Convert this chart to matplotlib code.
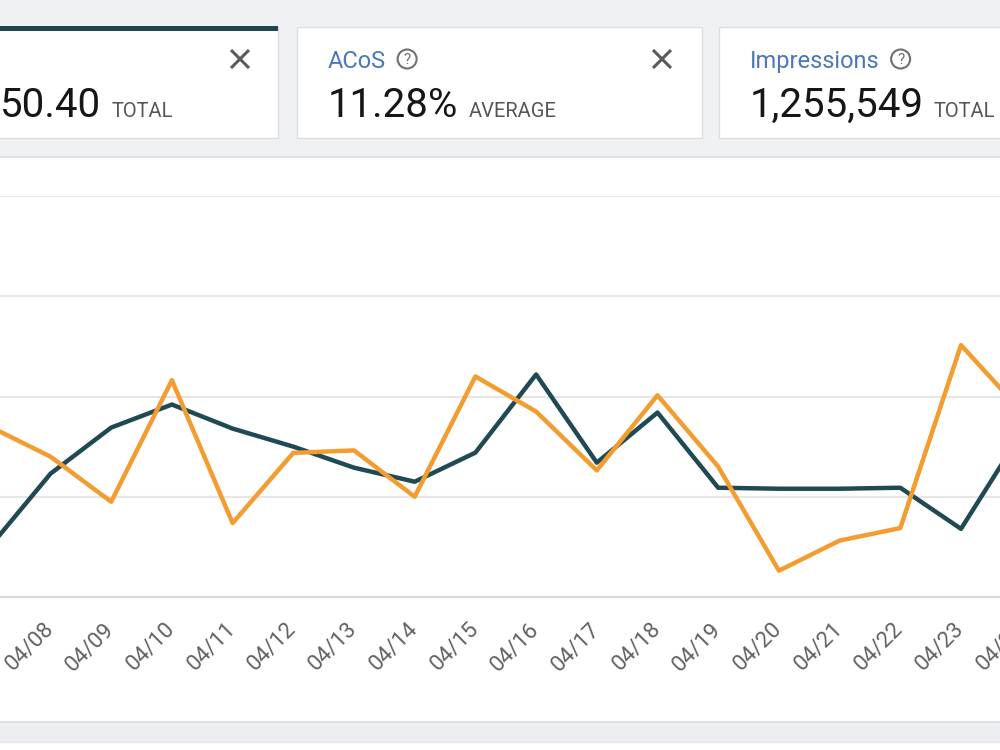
import matplotlib.pyplot as plt
from matplotlib.patches import Rectangle, Circle

plt.rcParams['font.family'] = ['Roboto', 'DejaVu Sans']

# daily values (04/07 and 04/24 are cut at the edges)
dates = ['04/07', '04/08', '04/09', '04/10', '04/11', '04/12', '04/13', '04/14', '04/15',
         '04/16', '04/17', '04/18', '04/19', '04/20', '04/21', '04/22', '04/23', '04/24']
spend = [50, 123, 169, 192, 168, 150, 129, 115, 144, 222, 134, 184, 109, 108, 108, 109, 68, 164]
acos = [13.6, 11.2, 7.6, 17.3, 5.9, 11.5, 11.7, 8.0, 17.6, 14.8, 10.1, 16.1, 10.4, 2.1, 4.5, 5.5, 20.1, 14.8]

# metric cards at the top
card_titles = ['', 'ACoS', 'Impressions']
card_values = ['50.40', '11.28%', '1,255,549']
card_units = ['TOTAL', 'AVERAGE', 'TOTAL']

fig = plt.figure(figsize=(10, 7.5), dpi=100, facecolor='white')

# background layer in pixel coordinates
bg = fig.add_axes([0, 0, 1, 1])
bg.set_xlim(0, 1000)
bg.set_ylim(750, 0)
bg.axis('off')

bg.add_patch(Rectangle((0, 0), 1000, 157, color='#eff1f3', lw=0))
bg.add_patch(Rectangle((0, 157), 1000, 565, color='white', lw=0))
bg.plot([0, 1000], [156.5, 156.5], color='#dde1e6', lw=1.5)
bg.add_patch(Rectangle((0, 722), 1000, 20, color='#eceef1', lw=0))
bg.plot([0, 1000], [722, 722], color='#dde1e6', lw=1.5)
bg.plot([0, 1000], [742, 742], color='#e4e7ea', lw=1)

cards = [(-5, 283), (297, 405), (719, 300)]
for i, (x0, w) in enumerate(cards):
    bg.add_patch(Rectangle((x0, 27), w, 111, fc='white', ec='#dcdfe4', lw=1))
    tx = x0 + 31 if i > 0 else 0
    if card_titles[i]:
        t = bg.text(tx, 68, card_titles[i], fontsize=17, color='#4a78b8', va='baseline')
        fig.canvas.draw()
        bb = t.get_window_extent()
        cx = bb.x1 + 21
        bg.add_patch(Circle((cx, 59), 9.5, fill=False, ec='#707070', lw=1.5))
        bg.text(cx, 60, '?', fontsize=11, color='#707070', ha='center', va='center')
    v = bg.text(tx, 117, card_values[i], fontsize=29, color='#161616', va='baseline')
    fig.canvas.draw()
    bb = v.get_window_extent()
    bg.text(bb.x1 + 10, 117, card_units[i], fontsize=14.5, color='#555555', va='baseline')

# highlighted card top bar
bg.add_patch(Rectangle((-5, 26), 283, 5, color='#1f4650', lw=0))

# close icons
for cx in [240, 662]:
    bg.plot([cx - 9, cx + 9], [50, 68], color='#5a5a5a', lw=2.2, solid_capstyle='butt')
    bg.plot([cx - 9, cx + 9], [68, 50], color='#5a5a5a', lw=2.2, solid_capstyle='butt')

# chart, wider than the figure so it is cropped like the screenshot
ax = fig.add_axes([-0.04055, 153 / 750, 1.0926, 401 / 750])
ax.patch.set_alpha(0)
x = list(range(len(dates)))
ax.plot(x, spend, color='#1f4a54', lw=3.2)
ax.set_xlim(-0.5, len(dates) - 0.5)
ax.set_ylim(0, 400)
ax.set_yticks([100, 200, 300, 400])
ax.yaxis.grid(True, color='#e6e6e6', lw=1.5)
ax.set_axisbelow(True)
ax.tick_params(axis='y', length=0, labelleft=False)
ax.set_xticks(x)
ax.set_xticklabels(dates, rotation=45, ha='right', va='center', rotation_mode='anchor',
                   fontsize=16, color='#616161')
ax.tick_params(axis='x', length=0, pad=21)
for s in ['top', 'left', 'right']:
    ax.spines[s].set_visible(False)
ax.spines['bottom'].set_color('#d5dae0')
ax.spines['bottom'].set_linewidth(1.6)

ax2 = ax.twinx()
ax2.plot(x, acos, color='#f39c2f', lw=3.2)
ax2.set_ylim(0, 32)
ax2.set_yticks([])
for s in ax2.spines.values():
    s.set_visible(False)

fig.savefig('out.png', dpi=100)
